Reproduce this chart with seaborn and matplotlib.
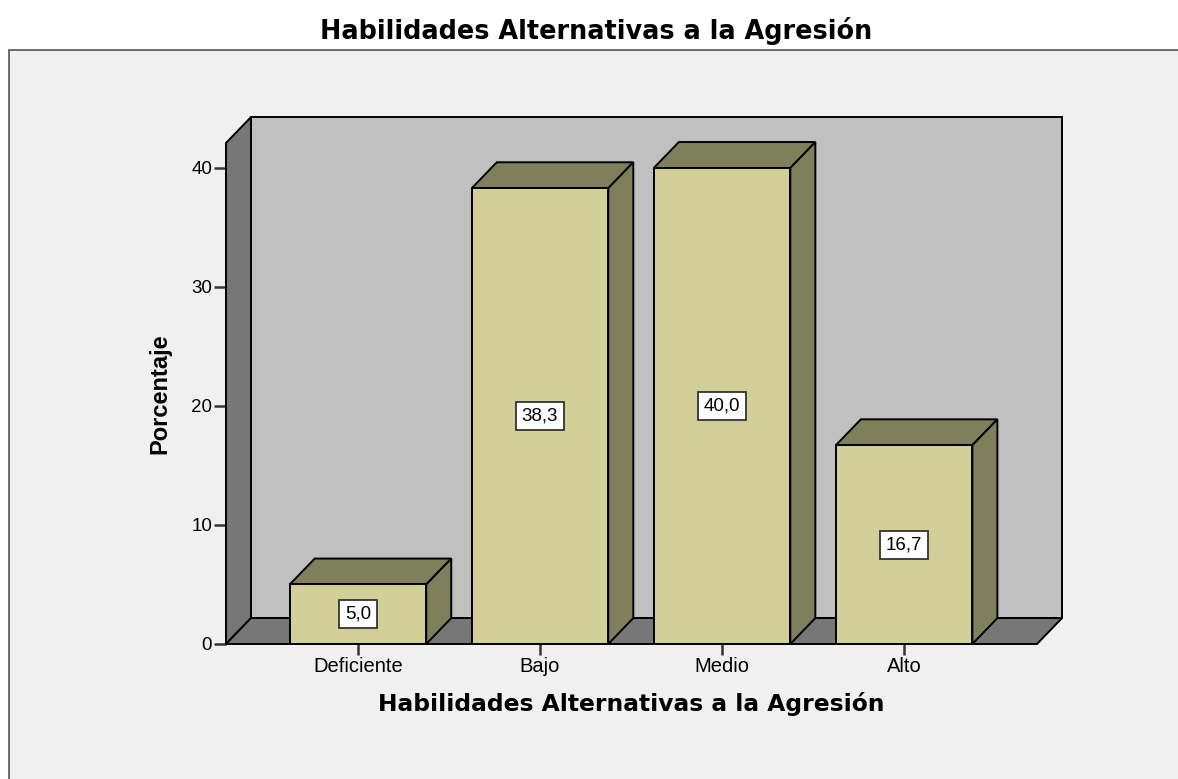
import numpy as np
import pandas as pd
import matplotlib
matplotlib.use('Agg')
import matplotlib.pyplot as plt
from matplotlib.patches import Polygon, Rectangle
import seaborn as sns

categorias = ['Deficiente', 'Bajo', 'Medio', 'Alto']
porcentajes = [5.0, 38.3, 40.0, 16.7]
etiquetas = ['5,0', '38,3', '40,0', '16,7']
y_ticks = [0, 10, 20, 30, 40]

titulo = 'Habilidades Alternativas a la Agresión'

sns.set_style('white')
plt.rcParams['font.family'] = ['Liberation Sans', 'DejaVu Sans']
plt.rcParams['text.color'] = 'black'
plt.rcParams['axes.labelcolor'] = 'black'
plt.rcParams['xtick.color'] = 'black'
plt.rcParams['ytick.color'] = 'black'

c_front = '#d3cf98'
c_dark = '#807f5c'
c_wall = '#c0c0c0'
c_side = '#777777'
c_bg = '#f0f0f0'

W, H = 1178, 779
fig = plt.figure(figsize=(W / 100, H / 100), dpi=100, facecolor='white')

# outer panel
fig.patches.append(Rectangle((9 / W, -0.1), 1.2, (H - 50) / H + 0.1, transform=fig.transFigure,
                             facecolor=c_bg, edgecolor='#555555', linewidth=1.2, zorder=-5))
fig.text(596 / W, 1 - 31 / H, titulo, ha='center', va='center', fontsize=18.4,
         fontweight='bold', family='DejaVu Sans')

ax = fig.add_axes([226 / W, (H - 644) / H, (1037 - 226) / W, (644 - 143) / H])
ax.patch.set_alpha(0)

df = pd.DataFrame({'cat': categorias, 'pct': porcentajes})
sns.barplot(data=df, x='cat', y='pct', order=categorias, color=c_front, saturation=1,
            width=0.75, edgecolor='black', linewidth=1.4, ax=ax, zorder=3)

xmin, xmax = -0.725, 3.73
ymax = 42.1
ax.set_xlim(xmin, xmax)
ax.set_ylim(0, ymax)

# depth of the 3D effect, in data units
dx = 25 / 182
dy = 2.18

lw = 1.4
# back wall, left wall, floor
ax.add_patch(Polygon([(xmin + dx, dy), (xmax + dx, dy), (xmax + dx, ymax + dy), (xmin + dx, ymax + dy)],
                     closed=True, facecolor=c_wall, edgecolor='black', linewidth=lw, clip_on=False, zorder=0.5))
ax.add_patch(Polygon([(xmin, 0), (xmin + dx, dy), (xmin + dx, ymax + dy), (xmin, ymax)],
                     closed=True, facecolor=c_side, edgecolor='black', linewidth=lw, clip_on=False, zorder=0.6))
ax.add_patch(Polygon([(xmin, 0), (xmax, 0), (xmax + dx, dy), (xmin + dx, dy)],
                     closed=True, facecolor=c_side, edgecolor='black', linewidth=lw, clip_on=False, zorder=0.6))

for p, lab, v in zip(ax.patches[:len(categorias)], etiquetas, porcentajes):
    x0, w, h = p.get_x(), p.get_width(), p.get_height()
    ax.add_patch(Polygon([(x0, h), (x0 + dx, h + dy), (x0 + w + dx, h + dy), (x0 + w, h)],
                         closed=True, facecolor=c_dark, edgecolor='black', linewidth=lw, clip_on=False, zorder=2))
    ax.add_patch(Polygon([(x0 + w, 0), (x0 + w + dx, dy), (x0 + w + dx, h + dy), (x0 + w, h)],
                         closed=True, facecolor=c_dark, edgecolor='black', linewidth=lw, clip_on=False, zorder=2))
    ax.text(x0 + w / 2, v / 2, lab, ha='center', va='center', fontsize=13.5, zorder=5,
            bbox=dict(boxstyle='square,pad=0.3', facecolor='white', edgecolor='#333333', linewidth=1.3))

for s in ax.spines.values():
    s.set_visible(False)

ax.set_yticks(y_ticks)
ax.tick_params(axis='y', left=True, direction='out', length=9, width=1.8, color='#333333',
               labelsize=13.5, pad=1)
ax.tick_params(axis='x', bottom=True, direction='out', length=8, width=1.8, color='#333333',
               labelsize=14.5, pad=1)
ax.set_xlabel(titulo, fontsize=16.8, fontweight='bold', family='DejaVu Sans', labelpad=12)
ax.set_ylabel('Porcentaje', fontsize=17, fontweight='bold', labelpad=14)

fig.savefig('out.png', dpi=100, facecolor='white')
